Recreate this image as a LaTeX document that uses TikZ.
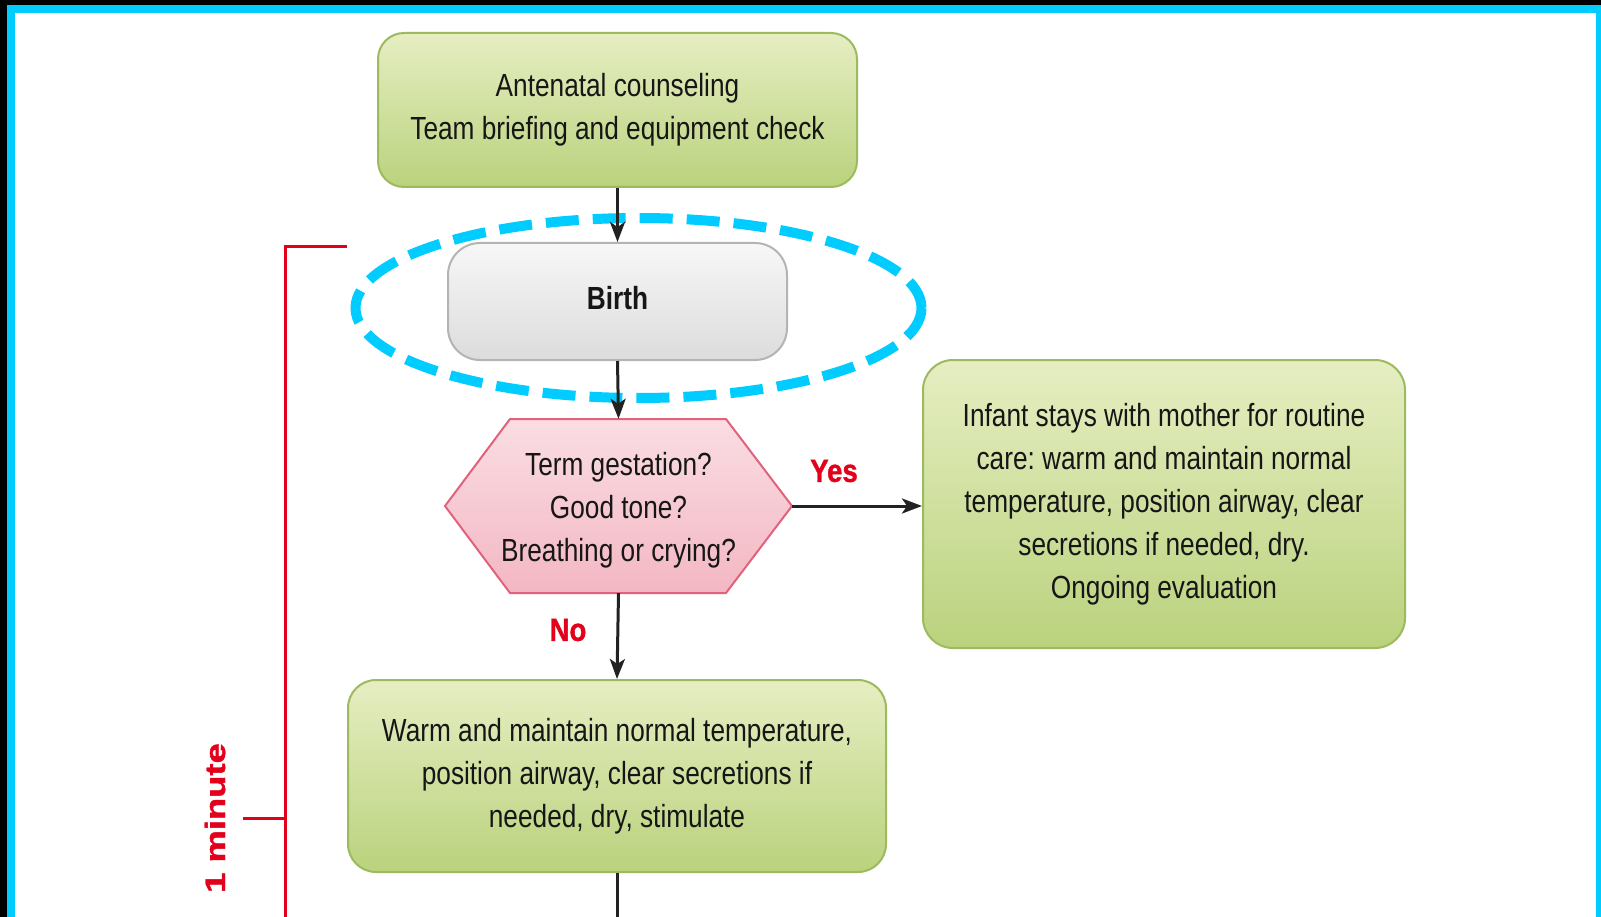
\documentclass[tikz,border=0pt]{standalone}
\usepackage{fontspec}
\setmainfont{Liberation Sans}[FakeStretch=0.82]
\newfontfamily\answerfont{Liberation Sans}[FakeStretch=0.86, FakeBold=1.2]
\newfontfamily\widebold{Liberation Sans}[FakeStretch=1.3, FakeBold=1.5]
\usetikzlibrary{arrows.meta}
\frenchspacing

\definecolor{frameblue}{HTML}{00CCFF}
\definecolor{greentop}{HTML}{E6EEC2}
\definecolor{greenbot}{HTML}{BAD27D}
\definecolor{greenedge}{HTML}{9DBA5E}
\definecolor{graytop}{HTML}{F7F7F7}
\definecolor{graybot}{HTML}{DCDCDC}
\definecolor{grayedge}{HTML}{B4B4B4}
\definecolor{pinktop}{HTML}{FADDE3}
\definecolor{pinkbot}{HTML}{F3B7C3}
\definecolor{pinkedge}{HTML}{E0627B}
\definecolor{alertred}{HTML}{E3001B}
\definecolor{linegray}{HTML}{222222}
\definecolor{inktext}{HTML}{161616}

\tikzset{
  boxtext/.style={font=\fontsize{32}{43}\selectfont, text=inktext, align=center, inner sep=0pt},
  greenbox/.style={boxtext, draw=greenedge, line width=2pt, top color=greentop, bottom color=greenbot},
  graybox/.style={boxtext, draw=grayedge, line width=2pt, top color=graytop, bottom color=graybot},
  conn/.style={draw=linegray, line width=3pt, -{Stealth[length=20pt,width=15pt,inset=5pt]}},
  plainline/.style={draw=linegray, line width=3pt},
  bracket/.style={draw=alertred, line width=3pt},
  answer/.style={text=alertred, font=\fontsize{32}{36}\selectfont\answerfont\bfseries, inner sep=0pt},
}

\begin{document}
\begin{tikzpicture}[x=1pt, y=-1pt]
  % page frame: black edge, cyan border, white sheet
  \fill[black] (0,0) rectangle (1601,917);
  \fill[frameblue] (7,5) rectangle (1601,917);
  \fill[white] (15,13) rectangle (1596,917);
  \useasboundingbox (0,0) rectangle (1601,917);

  % boxes
  \node[greenbox, rounded corners=26pt, minimum width=479pt, minimum height=154pt]
    (ante) at (617.5,110) {Antenatal counseling\\Team briefing and equipment check};
  \node[graybox, rounded corners=32pt, minimum width=339pt, minimum height=117pt, font=\fontsize{32}{43}\selectfont\bfseries]
    (birth) at (617.5,301.5) {\raisebox{8pt}{Birth}};

  % decision hexagon: outline drawn as a path, an empty node carries its anchors
  \shade[draw=pinkedge, line width=2pt, top color=pinktop, bottom color=pinkbot]
    (445,506) -- (510,419) -- (726,419) -- (792,506) -- (726,593) -- (510,593) -- cycle;
  \node[inner sep=0pt, minimum width=347pt, minimum height=174pt] (hex) at (618.5,506) {};
  \node[boxtext] (hexlabel) at (618.5,510) {Term gestation?\\Good tone?\\Breathing or crying?};

  \node[greenbox, rounded corners=30pt, minimum width=482pt, minimum height=288pt]
    (routine) at (1164,504) {Infant stays with mother for routine\\care: warm and maintain normal\\temperature, position airway, clear\\secretions if needed, dry.\\Ongoing evaluation};
  \node[greenbox, rounded corners=28pt, minimum width=538pt, minimum height=192pt]
    (warm) at (617,776) {Warm and maintain normal temperature,\\position airway, clear secretions if\\needed, dry, stimulate};

  % highlight around birth
  \draw[frameblue, line width=10pt, dash pattern=on 33pt off 14pt]
    (638.5,308) ellipse [x radius=283, y radius=90];

  % connectors
  \draw[conn] (ante.south) -- (birth.north);
  \draw[conn] (birth.south) -- (hex.north);
  \draw[conn] (hex.east) -- (hex.east -| routine.west);
  \draw[conn] (hex.south) -- (warm.north);
  \coordinate (offpage) at (617,917);
  \draw[plainline] (warm.south) -- (offpage);

  % answers
  \node[answer] (yes) at (834,471) {Yes};
  \node[answer] (no) at (568,630) {No};

  % time bracket
  \coordinate (brtop) at (347,247);
  \coordinate (brcorner) at (285,247);
  \coordinate (brbottom) at (285,917);
  \coordinate (ticka) at (243,818);
  \coordinate (tickb) at (285,818);
  \draw[bracket] (brtop) -- (brcorner) -- (brbottom);
  \draw[bracket] (ticka) -- (tickb);
  \node[text=alertred, font=\fontsize{28}{32}\selectfont\widebold\bfseries, rotate=90, inner sep=0pt]
    (minute) at (215,818) {1 minute};
\end{tikzpicture}
\end{document}
